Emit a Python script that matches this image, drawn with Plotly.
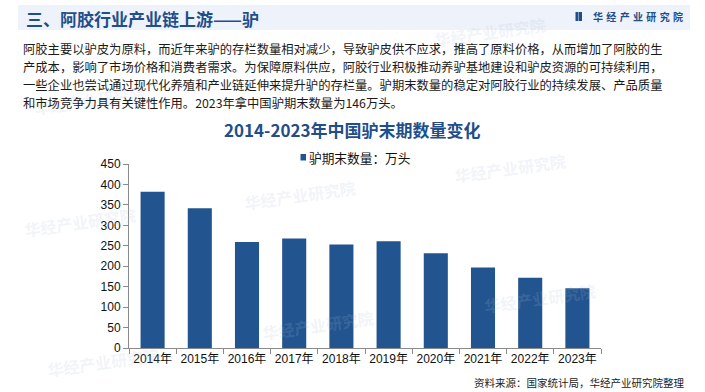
import plotly.graph_objects as go

# ---------------- data ----------------
years = ["2014年", "2015年", "2016年", "2017年", "2018年", "2019年", "2020年", "2021年", "2022年", "2023年"]
donkey_stock = [382, 342, 259, 268, 253, 261, 232, 197, 172, 146]
series_name = "驴期末数量：万头"
y_ticks = [0, 50, 100, 150, 200, 250, 300, 350, 400, 450]

page_title = "三、阿胶行业产业链上游——驴"
chart_title = "2014-2023年中国驴末期数量变化"
body_lines = [
    "阿胶主要以驴皮为原料，而近年来驴的存栏数量相对减少，导致驴皮供不应求，推高了原料价格，从而增加了阿胶的生",
    "产成本，影响了市场价格和消费者需求。为保障原料供应，阿胶行业积极推动养驴基地建设和驴皮资源的可持续利用，",
    "一些企业也尝试通过现代化养殖和产业链延伸来提升驴的存栏量。驴期末数量的稳定对阿胶行业的持续发展、产品质量",
    "和市场竞争力具有关键性作用。2023年拿中国驴期末数量为146万头。",
]
source_text = "资料来源：国家统计局，华经产业研究院整理"
brand = "华经产业研究院"

# ---------------- geometry helpers ----------------
W, H = 705, 392
L, R, T, B = 129, 104, 164, 44
PW, PH = W - L - R, H - T - B


def px(x):
    return (x - L) / PW


def py(y):
    return (H - B - y) / PH


CJK = "Noto Sans CJK SC, Liberation Sans, sans-serif"
NUM = "Liberation Sans, Arial, Noto Sans CJK SC, sans-serif"
BLUE = "#1F4E8A"
BAR = "#22558F"
AX = "#8a8a8a"

fig = go.Figure()
fig.add_trace(go.Bar(x=years, y=donkey_stock, name=series_name,
                     marker=dict(color=BAR, line=dict(width=0)),
                     showlegend=False))

shapes = []
annotations = []

# title bar
shapes.append(dict(type="rect", xref="paper", yref="paper",
                   x0=px(18), x1=px(690), y0=py(30), y1=py(5),
                   fillcolor="#EEF2FA", line=dict(width=0), layer="below"))
annotations.append(dict(text="<b>" + page_title + "</b>", xref="paper", yref="paper",
                        x=px(24), y=py(18), xanchor="left", yanchor="middle",
                        showarrow=False, font=dict(family=CJK, size=17, color=BLUE)))
# logo icon + brand
shapes.append(dict(type="rect", xref="paper", yref="paper",
                   x0=px(575.5), x1=px(578.5), y0=py(21), y1=py(12),
                   fillcolor=BLUE, line=dict(width=0)))
shapes.append(dict(type="rect", xref="paper", yref="paper",
                   x0=px(579), x1=px(582), y0=py(21), y1=py(12),
                   fillcolor=BLUE, line=dict(width=0)))
annotations.append(dict(text="<b>" + "\u2004".join(list(brand)) + "</b>", xref="paper", yref="paper",
                        x=px(591), y=py(16.5), xanchor="left", yanchor="middle",
                        showarrow=False, font=dict(family=CJK, size=10, color=BLUE)))

# watermarks
wm_pos = [(80, 222), (103, 362), (300, 195), (510, 168), (540, 298), (318, 325), (90, 100), (490, 32)]
for (wx, wy) in wm_pos:
    annotations.append(dict(text="<b>" + brand + "</b>", xref="paper", yref="paper",
                            x=px(wx), y=py(wy), xanchor="center", yanchor="middle",
                            showarrow=False, textangle=-8,
                            font=dict(family=CJK, size=16, color="rgba(170,185,215,0.18)")))

# body text
line_y = [49, 67, 85, 103]
for txt, ly in zip(body_lines, line_y):
    annotations.append(dict(text=txt, xref="paper", yref="paper",
                            x=px(21), y=py(ly), xanchor="left", yanchor="middle",
                            showarrow=False, font=dict(family=CJK, size=12.3, color="#1a1a1a")))

# chart title
annotations.append(dict(text="<b>" + chart_title + "</b>", xref="paper", yref="paper",
                        x=px(352), y=py(129), xanchor="center", yanchor="middle",
                        showarrow=False, font=dict(family=CJK, size=17, color=BLUE)))

# legend (manual)
shapes.append(dict(type="rect", xref="paper", yref="paper",
                   x0=px(300.5), x1=px(306), y0=py(160.5), y1=py(154),
                   fillcolor=BAR, line=dict(width=0)))
annotations.append(dict(text=series_name, xref="paper", yref="paper",
                        x=px(307), y=py(157.5), xanchor="left", yanchor="middle",
                        showarrow=False, font=dict(family=CJK, size=12.7, color="#111")))

# source
annotations.append(dict(text=source_text, xref="paper", yref="paper",
                        x=px(686), y=py(382), xanchor="right", yanchor="middle",
                        showarrow=False, font=dict(family=CJK, size=10.5, color="#222")))

fig.update_layout(
    width=W, height=H,
    margin=dict(l=L, r=R, t=T, b=B, pad=0),
    paper_bgcolor="white", plot_bgcolor="white",
    bargap=0.49,
    shapes=shapes, annotations=annotations,
    font=dict(family=NUM, size=12, color="#111"),
    xaxis=dict(type="category", showline=True, linecolor=AX, linewidth=1,
               ticks="outside", tickson="boundaries", ticklen=5, tickcolor=AX,
               tickangle=0, showgrid=False,
               tickfont=dict(family=NUM, size=12, color="#111")),
    yaxis=dict(range=[0, 450], tickvals=y_ticks, showline=True, linecolor=AX, linewidth=1,
               ticks="outside", ticklen=5, tickcolor=AX, showgrid=False, zeroline=False,
               tickfont=dict(family=NUM, size=12, color="#111")),
)

fig.write_html("out.html", config={"displayModeBar": False},
               post_script="document.body.style.margin='0';document.body.style.overflow='hidden';")
